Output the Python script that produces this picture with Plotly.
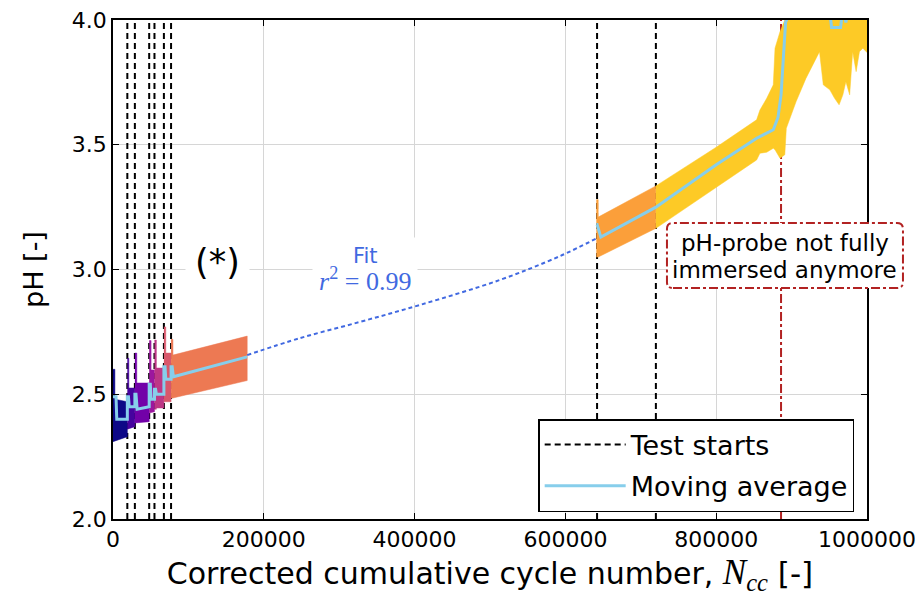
import plotly.graph_objects as go

# ---------------- data ----------------
x_ticks = [0, 200000, 400000, 600000, 800000, 1000000]
x_tick_labels = ["0", "200000", "400000", "600000", "800000", "1000000"]
y_ticks = [2.0, 2.5, 3.0, 3.5, 4.0]
y_tick_labels = ["2.0", "2.5", "3.0", "3.5", "4.0"]

test_starts = [19000, 29000, 48000, 55000, 67500, 77000, 642000, 720000]
probe_limit = 886000

seg_colors = ["#0d0887", "#46039f", "#7201a8", "#9c179e", "#bd3786",
              "#d8576b", "#ed7953", "#fb9f3a", "#fdca26"]

# measured pH band (min / max envelope) of each test
seg_x = [
    [0, 2500, 2500, 19000],
    [19000, 21000, 21000, 29000],
    [29000, 31500, 31500, 48000],
    [48000, 50500, 50500, 55000],
    [55000, 57500, 57500, 67500],
    [67500, 70000, 70000, 77000],
    [77000, 79500, 79500, 130000, 178000],
    [641000, 643500, 643500, 720000],
    [720000, 800000, 853600, 858000, 867000, 875700, 878000, 884600, 891000,
     893000, 906000, 919000, 928000, 937000, 942000, 950700, 957000, 963000,
     968000, 972000, 977000, 981000, 985600, 990000, 994500, 1000000],
]
seg_upper = [
    [2.60, 2.60, 2.48, 2.47],
    [2.644, 2.644, 2.525, 2.525],
    [2.665, 2.665, 2.545, 2.545],
    [2.715, 2.715, 2.597, 2.597],
    [2.717, 2.717, 2.605, 2.605],
    [2.77, 2.77, 2.665, 2.665],
    [2.72, 2.72, 2.657, 2.695, 2.733],
    [3.28, 3.28, 3.21, 3.335],
    [3.335, 3.49, 3.60, 3.639, 3.686, 3.74, 3.887, 3.953, 4.0,
     4.3, 4.3, 4.3, 4.3, 4.3, 4.3, 4.3, 4.3, 4.3,
     4.3, 4.3, 4.3, 4.3, 4.3, 4.3, 4.3, 4.3],
]
seg_lower = [
    [2.31, 2.31, 2.31, 2.33],
    [2.36, 2.36, 2.36, 2.37],
    [2.385, 2.385, 2.385, 2.39],
    [2.425, 2.425, 2.425, 2.43],
    [2.44, 2.44, 2.445, 2.445],
    [2.47, 2.47, 2.47, 2.47],
    [2.485, 2.485, 2.485, 2.52, 2.555],
    [3.05, 3.05, 3.05, 3.165],
    [3.165, 3.33, 3.439, 3.466, 3.47, 3.486, 3.48, 3.446, 3.46,
     3.566, 3.673, 3.766, 3.82, 3.873, 3.74, 3.72, 3.686, 3.66,
     3.70, 3.753, 3.70, 3.873, 3.793, 3.873, 3.887, 3.87],
]

# moving average (None = gap between campaigns)
ma_x = [0, 4000, 5000, 19000,
        19000, 20500, 21500, 29000,
        29000, 30500, 32000, 48000,
        48000, 49500, 50500, 55000,
        55000, 56500, 57500, 67500,
        67500, 69000, 70000, 77000,
        77000, 78500, 80000, 130000, 178000,
        None,
        641000, 642000, 647000, 680000, 720000,
        800000, 853600, 875700, 882000, 886000, 889000, 892000, 900000,
        950000, 953000, 965000, 968000, 972000, 975000, 1000000]
ma_y = [2.49, 2.49, 2.40, 2.40,
        2.49, 2.49, 2.45, 2.45,
        2.50, 2.50, 2.44, 2.45,
        2.54, 2.54, 2.48, 2.48,
        2.52, 2.52, 2.50, 2.50,
        2.61, 2.61, 2.56, 2.56,
        2.61, 2.61, 2.57, 2.61, 2.65,
        None,
        3.18, 3.18, 3.13, 3.185, 3.25,
        3.42, 3.526, 3.56, 3.61, 3.70, 3.85, 3.99, 4.05,
        4.05, 3.97, 3.97, 4.05, 3.99, 4.05, 4.08]

# fitted curve bridging the gap
fit_x = [178000, 248000, 327600, 407000, 513000, 593000, 642000]
fit_y = [2.657, 2.725, 2.79, 2.858, 2.958, 3.054, 3.126]

# ---------------- figure ----------------
fig = go.Figure()

vx, vy = [], []
for v in test_starts:
    vx += [v, v, None]
    vy += [2.0, 4.0, None]
fig.add_trace(go.Scatter(x=vx, y=vy, mode="lines", name="Test starts",
                         legendgroup="a",
                         line=dict(color="black", width=2, dash="6px,4px"),
                         hoverinfo="skip"))

fig.add_trace(go.Scatter(x=[probe_limit, probe_limit], y=[2.0, 4.0], mode="lines",
                         line=dict(color="#b22222", width=2, dash="dashdot"),
                         showlegend=False, hoverinfo="skip"))

for xs, up, lo, col in zip(seg_x, seg_upper, seg_lower, seg_colors):
    fig.add_trace(go.Scatter(x=xs + xs[::-1], y=up + lo[::-1], mode="lines",
                             fill="toself", fillcolor=col,
                             line=dict(color=col, width=0.5),
                             showlegend=False, hoverinfo="skip"))

fig.add_trace(go.Scatter(x=ma_x, y=ma_y, mode="lines", name="Moving average",
                         legendgroup="b",
                         line=dict(color="#87ceeb", width=3), connectgaps=False))

fig.add_trace(go.Scatter(x=fit_x, y=fit_y, mode="lines", showlegend=False,
                         line=dict(color="#4169e1", width=2, dash="4px,3px"),
                         line_shape="spline"))

# box for the probe note (paper coordinates)
x0, x1, y0, y1 = 0.7347, 1.0477, 0.4629, 0.5932
rx, ry = 0.008, 0.012
path = (f"M {x0+rx},{y0} L {x1-rx},{y0} Q {x1},{y0} {x1},{y0+ry} "
        f"L {x1},{y1-ry} Q {x1},{y1} {x1-rx},{y1} L {x0+rx},{y1} "
        f"Q {x0},{y1} {x0},{y1-ry} L {x0},{y0+ry} Q {x0},{y0} {x0+rx},{y0} Z")
fig.add_shape(type="path", path=path, xref="paper", yref="paper",
              line=dict(color="#b22222", width=2, dash="dashdot"),
              fillcolor="white", layer="above")

note_lines = ["pH-probe not fully", "immersed anymore"]
for txt, yy in zip(note_lines, [0.553, 0.499]):
    fig.add_annotation(x=(x0 + x1) / 2, y=yy, xref="paper", yref="paper",
                       xanchor="center", yanchor="middle",
                       text=txt, showarrow=False,
                       font=dict(family="DejaVu Sans", size=23, color="black"))

fig.add_annotation(x=138000, y=3.03, xref="x", yref="y", text="(*)",
                   xanchor="center", yanchor="middle",
                   showarrow=False, bgcolor="white", borderpad=9,
                   font=dict(family="DejaVu Sans", size=35, color="black"))

fig.add_annotation(x=334000, y=3.0, xref="x", yref="y",
                   xanchor="center", yanchor="middle",
                   text="Fit<br><span style='font-family:Liberation Serif;font-size:26px'><i>r</i><sup>2</sup> = 0.99</span>",
                   showarrow=False, bgcolor="white", borderpad=6,
                   font=dict(family="DejaVu Sans", size=21, color="#4169e1"))

axis_common = dict(showline=True, linecolor="black", linewidth=1.5, mirror="ticks",
                   ticks="inside", ticklen=6, tickwidth=1, tickcolor="black",
                   showgrid=True, gridcolor="#d6d6d6", gridwidth=1, zeroline=False,
                   automargin=False,
                   tickfont=dict(family="DejaVu Sans", size=22, color="black"))

fig.update_xaxes(range=[0, 1000000], tickvals=x_ticks, ticktext=x_tick_labels,
                 title=dict(text="Corrected cumulative cycle number, <span style='font-family:Liberation Serif;font-size:35px'><i>N<sub>cc</sub></i></span><span style='font-size:31px'> [-]</span>",
                            font=dict(family="DejaVu Sans", size=30, color="black"),
                            standoff=14),
                 **axis_common)
fig.update_yaxes(range=[2.0, 4.0], tickvals=y_ticks, ticktext=y_tick_labels,
                 title=dict(text="pH [-]", font=dict(family="DejaVu Sans", size=27, color="black"),
                            standoff=20),
                 **axis_common)

fig.update_layout(
    width=919, height=596, autosize=False,
    margin=dict(l=113, r=52, t=20, b=77, autoexpand=False),
    plot_bgcolor="white", paper_bgcolor="white",
    font=dict(family="DejaVu Sans", color="black"),
    legend=dict(x=0.983, xanchor="right", y=0.014, yanchor="bottom",
                bgcolor="white", bordercolor="black", borderwidth=1.5,
                font=dict(family="DejaVu Sans", size=27, color="black"),
                traceorder="grouped", tracegroupgap=3, itemwidth=81),
)

fig.write_html("out.html", config={"displayModeBar": False},
               post_script="document.body.style.margin='0px';")
